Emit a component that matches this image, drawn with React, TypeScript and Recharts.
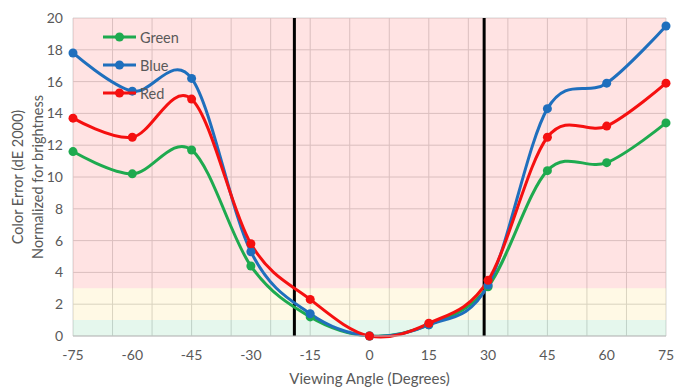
import { LineChart, Line, XAxis, YAxis, CartesianGrid, ReferenceArea, ReferenceLine } from 'recharts'

const angles = [-75, -60, -45, -30, -15, 0, 15, 30, 45, 60, 75]
const green = [11.6, 10.2, 11.7, 4.4, 1.2, 0, 0.7, 3.1, 10.4, 10.9, 13.4]
const blue = [17.8, 15.4, 16.2, 5.3, 1.4, 0, 0.7, 3.2, 14.3, 15.9, 19.5]
const red = [13.7, 12.5, 14.9, 5.8, 2.3, 0, 0.8, 3.5, 12.5, 13.2, 15.9]

const xTicks = [-75, -60, -45, -30, -15, 0, 15, 30, 45, 60, 75]
const yTicks = [0, 2, 4, 6, 8, 10, 12, 14, 16, 18, 20]
const gridAngles = [-75, -65, -55, -45, -35, -25, -15, -5, 5, 15, 25, 35, 45, 55, 65, 75]
const markers = [-19, 29]

const series = [
  { key: 'Green', color: '#1eaa4f' },
  { key: 'Blue', color: '#1f6fbd' },
  { key: 'Red', color: '#f51010' },
]

const data = angles.map((a, i) => ({ angle: a, Green: green[i], Blue: blue[i], Red: red[i] }))

const FONT = 'Lato, "Open Sans", sans-serif'
const TEXT = '#595959'

// Excel style smoothed line (cardinal spline, tension 0)
function smooth(context: any) {
  const k = 1 / 6
  let x0 = NaN, y0 = NaN, x1 = NaN, y1 = NaN, x2 = NaN, y2 = NaN
  let pt = 0
  let line = NaN
  const seg = (x: number, y: number) => {
    context.bezierCurveTo(
      x1 + k * (x2 - x0), y1 + k * (y2 - y0),
      x2 + k * (x1 - x), y2 + k * (y1 - y),
      x2, y2,
    )
  }
  return {
    areaStart() { line = 0 },
    areaEnd() { line = NaN },
    lineStart() { x0 = x1 = x2 = y0 = y1 = y2 = NaN; pt = 0 },
    lineEnd() {
      if (pt === 2) context.lineTo(x2, y2)
      else if (pt === 3) seg(x1, y1)
      if (line || (line !== 0 && pt === 1)) context.closePath()
      line = 1 - line
    },
    point(x: number, y: number) {
      x = +x; y = +y
      if (pt === 0) { pt = 1; if (line) context.lineTo(x, y); else context.moveTo(x, y) }
      else if (pt === 1) { pt = 2; x1 = x; y1 = y }
      else { pt = 3; seg(x, y) }
      x0 = x1; x1 = x2; x2 = x
      y0 = y1; y1 = y2; y2 = y
    },
  }
}

function LegendBox() {
  return (
    <div style={{ position: 'absolute', left: 103, top: 23, fontFamily: FONT, fontSize: 14.5, color: TEXT, pointerEvents: 'none' }}>
      {series.map((s) => (
        <div key={s.key} style={{ display: 'flex', alignItems: 'center', height: 28 }}>
          <svg width={37} height={10}>
            <line x1={0} y1={5} x2={33} y2={5} stroke={s.color} strokeWidth={3} />
            <circle cx={16.5} cy={5} r={4.5} fill={s.color} />
          </svg>
          <span>{s.key}</span>
        </div>
      ))}
    </div>
  )
}

function YTitle({ viewBox }: any) {
  const cy = viewBox.y + viewBox.height / 2
  return (
    <g fontFamily={FONT} fontSize={14.5} fill={TEXT} textAnchor="middle">
      <text x={17} y={cy} transform={`rotate(-90, 17, ${cy})`} dominantBaseline="central">Color Error (dE 2000)</text>
      <text x={37} y={cy} transform={`rotate(-90, 37, ${cy})`} dominantBaseline="central">Normalized for brightness</text>
    </g>
  )
}

function XTitle({ viewBox }: any) {
  return (
    <text x={viewBox.x + viewBox.width / 2} y={viewBox.y + 48} textAnchor="middle" fontFamily={FONT} fontSize={15} fill={TEXT}>
      Viewing Angle (Degrees)
    </text>
  )
}

export default function App() {
  return (
    <div style={{ position: 'absolute', left: 0, top: 0, width: 693, height: 390 }}>
      <LineChart width={693} height={390} data={data} margin={{ top: 18, right: 27, left: 10, bottom: 0 }}>
        <ReferenceArea y1={3} y2={20} fill="#ff2a2a" fillOpacity={0.13} stroke="none" />
        <ReferenceArea y1={1} y2={3} fill="#ffc000" fillOpacity={0.1} stroke="none" />
        <ReferenceArea y1={0} y2={1} fill="#00b050" fillOpacity={0.1} stroke="none" />
        <CartesianGrid stroke="#d6d6d6" horizontalValues={yTicks} verticalValues={gridAngles} />
        <XAxis
          dataKey="angle"
          type="number"
          domain={[-75, 75]}
          ticks={xTicks}
          height={54}
          tickSize={0}
          tickMargin={14}
          stroke="#bfbfbf"
          tick={{ fill: TEXT, fontSize: 14, fontFamily: FONT }}
          label={<XTitle />}
        />
        <XAxis
          xAxisId="top"
          dataKey="angle"
          type="number"
          orientation="top"
          domain={[-75, 75]}
          ticks={xTicks}
          height={0}
          tickSize={5}
          axisLine={false}
          tickLine={{ stroke: '#d9d9d9' }}
          tickFormatter={() => ''}
        />
        <YAxis
          type="number"
          domain={[0, 20]}
          ticks={yTicks}
          width={63}
          tickSize={0}
          tickMargin={10}
          axisLine={false}
          tickLine={false}
          tick={{ fill: TEXT, fontSize: 14, fontFamily: FONT }}
          label={<YTitle />}
        />
        {markers.map((m) => (
          <ReferenceLine key={m} x={m} stroke="#000" strokeWidth={3} />
        ))}
        {series.map((s) => (
          <Line
            key={s.key}
            dataKey={s.key}
            type={smooth as any}
            stroke={s.color}
            strokeWidth={3}
            dot={{ r: 4.5, fill: s.color, stroke: s.color, strokeWidth: 0 }}
            activeDot={false}
            isAnimationActive={false}
          />
        ))}
      </LineChart>
      <LegendBox />
    </div>
  )
}
